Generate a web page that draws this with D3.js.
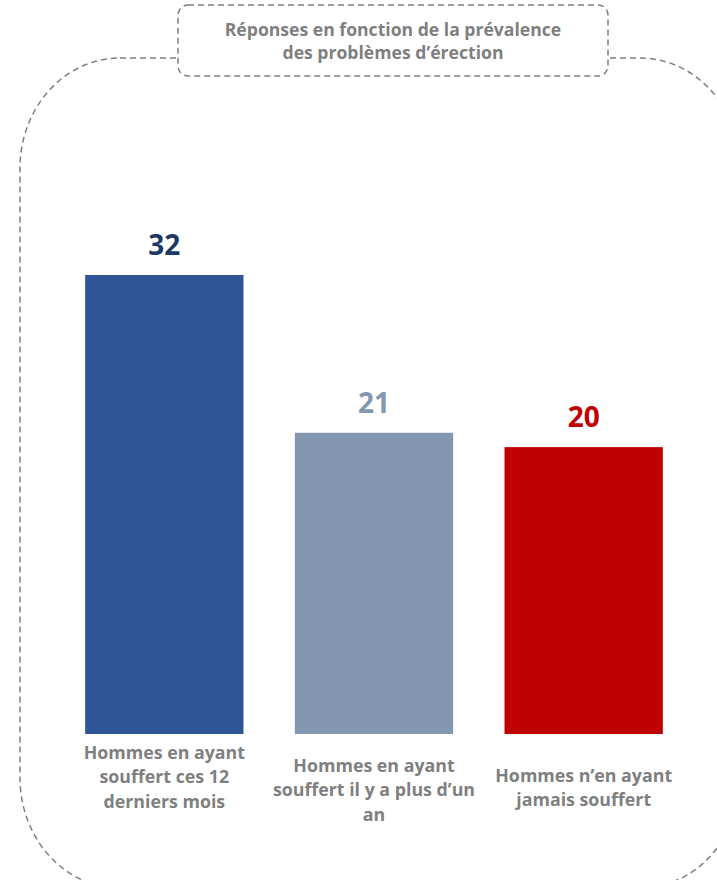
<!DOCTYPE html>
<html>
<head>
<meta charset="utf-8">
<script src="https://cdn.jsdelivr.net/npm/d3@7"></script>
<style>
body { margin: 0; background: #fff; }
svg { display: block; font-family: "Open Sans", sans-serif; }
</style>
</head>
<body>
<svg></svg>
<script>
var WIDTH = 717;
var HEIGHT = 880;

var titleLines = ['Réponses en fonction de la prévalence', 'des problèmes d’érection'];
var categories = ['a', 'b', 'c'];
var categoryLabels = [
    ['Hommes en ayant', 'souffert ces 12', 'derniers mois'],
    ['Hommes en ayant', 'souffert il y a plus d’un', 'an'],
    ['Hommes n’en ayant', 'jamais souffert']
];
var values = [32, 21, 20];
var barColors = ['#2f5597', '#8497b0', '#c00000'];
var labelColors = ['#1f3864', '#8497b0', '#c00000'];

var svg = d3.select('svg')
    .attr('width', WIDTH)
    .attr('height', HEIGHT);

// outer dashed frame
svg.append('rect')
    .attr('x', 20).attr('y', 58)
    .attr('width', 720).attr('height', 830)
    .attr('rx', 100).attr('ry', 110)
    .attr('fill', 'none')
    .attr('stroke', '#7f7f7f')
    .attr('stroke-width', 1.5)
    .attr('stroke-dasharray', '6,4');

// title box
svg.append('rect')
    .attr('x', 178).attr('y', 5)
    .attr('width', 430).attr('height', 71)
    .attr('rx', 10)
    .attr('fill', '#fff')
    .attr('stroke', '#7f7f7f')
    .attr('stroke-width', 1.5)
    .attr('stroke-dasharray', '6,4');

svg.append('g').selectAll('text')
    .data(titleLines)
    .enter()
    .append('text')
    .attr('x', 393)
    .attr('y', function(d, i){ return 36 + i * 23; })
    .attr('text-anchor', 'middle')
    .attr('font-size', 17.6)
    .attr('font-weight', 'bold')
    .attr('fill', '#7f7f7f')
    .text(function(d){ return d; });

var xScale = d3.scaleBand()
    .domain(categories)
    .range([60, 688])
    .paddingInner(0.245)
    .paddingOuter(0.12);

var yScale = d3.scaleLinear()
    .domain([0, 32])
    .range([734, 275]);

svg.append('g').selectAll('rect')
    .data(values)
    .enter()
    .append('rect')
    .attr('x', function(d, i){ return xScale(categories[i]); })
    .attr('y', function(d){ return yScale(d); })
    .attr('width', xScale.bandwidth())
    .attr('height', function(d){ return yScale(0) - yScale(d); })
    .attr('fill', function(d, i){ return barColors[i]; });

svg.append('g').selectAll('text')
    .data(values)
    .enter()
    .append('text')
    .attr('x', function(d, i){ return xScale(categories[i]) + xScale.bandwidth() / 2; })
    .attr('y', function(d){ return yScale(d) - 20; })
    .attr('text-anchor', 'middle')
    .attr('font-size', 28)
    .attr('font-weight', 'bold')
    .attr('fill', function(d, i){ return labelColors[i]; })
    .text(function(d){ return d; });

// category labels, roughly centred on a common line
var lineH = 24.5;
var labelShift = [-13, 0, -2];
var labels = svg.append('g').selectAll('text')
    .data(categoryLabels)
    .enter()
    .append('text')
    .attr('text-anchor', 'middle')
    .attr('font-size', 17.8)
    .attr('font-weight', 'bold')
    .attr('fill', '#7f7f7f')
    .attr('transform', function(d, i){
        var cx = xScale(categories[i]) + xScale.bandwidth() / 2;
        var top = 790 - (d.length - 1) * lineH / 2 + 6 + labelShift[i];
        return 'translate(' + cx + ',' + top + ')';
    });

labels.selectAll('tspan')
    .data(function(d){ return d; })
    .enter()
    .append('tspan')
    .attr('x', 0)
    .attr('y', function(d, i){ return i * lineH; })
    .text(function(d){ return d; });
</script>
</body>
</html>
